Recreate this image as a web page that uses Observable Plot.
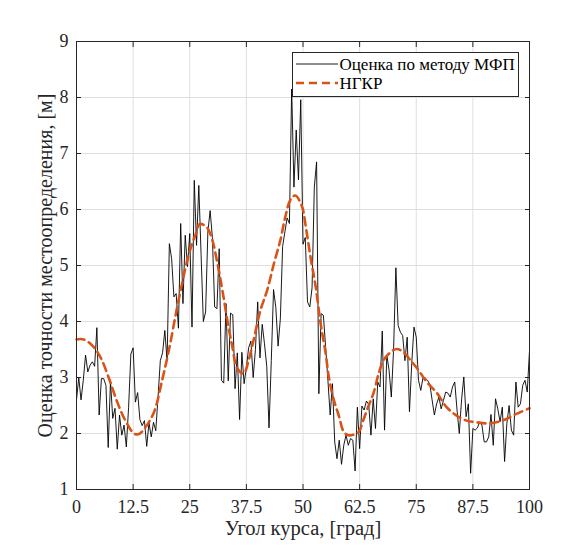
<!DOCTYPE html>
<html><head><meta charset="utf-8">
<script src="https://cdn.jsdelivr.net/npm/d3@7"></script>
<script src="https://cdn.jsdelivr.net/npm/@observablehq/plot@0.6"></script>
<style>
body{margin:0;background:#fff;}
#wrap{position:relative;width:585px;height:550px;}
#wrap text{font-family:"Liberation Serif","Times New Roman","DejaVu Serif",serif !important;}
</style></head><body><div id="wrap"></div>
<script>
// Оценка по методу МФП: angle step 0.5 deg, 0..100
const angleStep = 0.5;
const mfpValues = [
2.6, 3.0, 2.6, 2.95, 3.4, 3.1, 3.22, 3.28, 3.2, 3.89,
2.33, 2.98, 2.98, 2.86, 1.75, 2.94, 2.27, 2.45, 1.72, 2.33,
1.97, 2.15, 1.76, 2.47, 3.42, 3.53, 2.56, 2.73, 2.25, 2.14,
2.23, 1.77, 2.19, 1.94, 2.2, 2.05, 2.65, 3.3, 3.44, 3.84,
3.29, 5.39, 5.12, 4.44, 4.5, 3.88, 5.75, 4.32, 5.54, 4.98,
5.57, 3.9, 6.52, 5.36, 6.43, 5.2, 4.0, 4.17, 5.6, 5.98,
5.5, 4.26, 4.23, 5.3, 2.95, 2.9, 4.32, 2.94, 4.15, 4.12,
2.8, 3.44, 2.25, 3.45, 2.89, 3.18, 3.53, 3.65, 3.0, 3.5,
4.35, 3.35, 3.95, 3.6, 3.2, 2.1, 3.3, 4.57, 4.25, 3.56,
4.05, 5.34, 5.6, 5.85, 5.75, 8.15, 6.4, 7.42, 6.53, 7.96,
5.38, 5.5, 4.35, 4.26, 4.6, 6.4, 6.85, 2.71, 4.14, 4.11,
3.54, 2.95, 2.33, 2.89, 1.85, 1.55, 1.88, 1.45, 1.79, 1.97,
1.79, 1.91, 1.88, 1.33, 2.47, 1.73, 2.49, 2.42, 2.58, 2.52,
1.97, 2.62, 2.09, 2.92, 2.83, 3.83, 2.06, 3.4, 3.13, 2.65,
3.51, 4.96, 3.93, 3.81, 3.75, 3.3, 3.72, 2.39, 3.25, 3.9,
3.72, 2.95, 2.77, 3.0, 2.99, 2.95, 2.88, 2.6, 2.33, 2.53,
2.65, 2.44, 2.59, 2.74, 2.72, 2.65, 2.83, 2.92, 2.42, 2.0,
2.6, 3.01, 2.3, 2.53, 1.29, 2.09, 2.06, 2.1, 2.21, 2.15,
1.85, 1.85, 1.94, 2.34, 1.79, 2.62, 2.44, 2.21, 2.47, 1.5,
2.18, 2.5, 2.06, 1.97, 2.92, 2.47, 2.53, 2.86, 2.95, 2.74,
3.48
];
// НГКР
const ngkrAngles = [0, 1.6, 3.5, 5.3, 7.1, 9.0, 10.8, 12.7, 13.8, 15.2, 17.1, 18.9, 20.4, 21.85, 23.3, 24.8, 26.3, 27.2, 28.8, 30, 31.1, 32.2, 33.3, 34.4, 35.5, 36.9, 38.0, 39.1, 40.6, 42.1, 43.6, 45.0, 46.1, 47.2, 48.3, 49.8, 50.6, 51.7, 52.8, 53.9, 55, 55.7, 56.8, 57.9, 59, 60, 61.2, 62.3, 63.4, 64.5, 65.6, 66.7, 67.8, 69.3, 70.7, 72.2, 73.7, 75.5, 77.3, 79.5, 81.7, 83.9, 86.1, 88.3, 90.5, 92.7, 94.9, 97.1, 100];
const ngkrValues = [3.68, 3.68, 3.57, 3.36, 3.0, 2.56, 2.23, 2.0, 1.99, 2.11, 2.38, 2.95, 3.49, 4.1, 4.68, 5.2, 5.56, 5.74, 5.68, 5.45, 5.04, 4.56, 4.02, 3.55, 3.16, 3.07, 3.31, 3.67, 4.2, 4.56, 5.04, 5.45, 5.87, 6.17, 6.25, 6.05, 5.7, 5.13, 4.62, 3.96, 3.43, 3.01, 2.6, 2.32, 2.03, 1.97, 1.98, 2.03, 2.26, 2.5, 2.73, 3.07, 3.31, 3.45, 3.51, 3.45, 3.31, 3.13, 2.92, 2.73, 2.47, 2.32, 2.23, 2.2, 2.18, 2.2, 2.26, 2.35, 2.45];

const xTicks = [0, 12.5, 25, 37.5, 50, 62.5, 75, 87.5, 100];
const yTicks = [1, 2, 3, 4, 5, 6, 7, 8, 9];
const xLabel = "Угол курса, [град]";
const yLabel = "Оценка точности местоопределения, [м]";
const legendLabels = ["Оценка по методу МФП", "НГКР"];

const mfp = mfpValues.map((v, i) => ({x: i * angleStep, y: v}));
const ngkr = ngkrAngles.map((a, i) => ({x: a, y: ngkrValues[i]}));

const font = "Liberation Serif, Times New Roman, serif";
const ink = "#262626";
const orange = "#D95319";

const chart = Plot.plot({
  width: 585, height: 550,
  marginLeft: 76, marginRight: 56, marginTop: 41, marginBottom: 61,
  style: {fontFamily: font, fontSize: "18px", color: ink, background: "#fff", overflow: "visible"},
  x: {domain: [0, 100]},
  y: {domain: [1, 9]},
  marks: [
    Plot.gridX(xTicks, {stroke: "#dfdfdf", strokeOpacity: 1}),
    Plot.gridY(yTicks, {stroke: "#dfdfdf", strokeOpacity: 1}),
    Plot.line(mfp, {x: "x", y: "y", stroke: "#000", strokeWidth: 0.9}),
    Plot.line(ngkr, {x: "x", y: "y", curve: "catmull-rom", stroke: orange, strokeWidth: 2.6, strokeDasharray: "8,5"}),
    Plot.frame({stroke: ink, strokeWidth: 1}),
    Plot.axisX(xTicks, {anchor: "bottom", tickSize: -5, tickFormat: () => "", label: null, stroke: ink}),
    Plot.axisX(xTicks, {anchor: "top", tickSize: -5, tickFormat: () => "", label: null, stroke: ink}),
    Plot.axisY(yTicks, {anchor: "left", tickSize: -5, tickFormat: () => "", label: null, stroke: ink}),
    Plot.axisY(yTicks, {anchor: "right", tickSize: -5, tickFormat: () => "", label: null, stroke: ink}),
    Plot.text(xTicks, {x: d => d, frameAnchor: "bottom", lineAnchor: "top", textAnchor: "middle", dy: 11, text: d => String(d), fontSize: 18, fontFamily: font, fill: ink}),
    Plot.text(yTicks, {y: d => d, frameAnchor: "left", lineAnchor: "middle", textAnchor: "end", dx: -8, text: d => String(d), fontSize: 18, fontFamily: font, fill: ink}),
    Plot.text([xLabel], {frameAnchor: "bottom", lineAnchor: "middle", textAnchor: "middle", dy: 39, fontSize: 20.5, fontFamily: font, fill: ink}),
    Plot.text([yLabel], {frameAnchor: "left", lineAnchor: "middle", textAnchor: "middle", dx: -31, rotate: -90, fontSize: 20, fontFamily: font, fill: ink})
  ]
});
const wrap = document.getElementById("wrap");
wrap.appendChild(chart);

// legend overlay
const ns = "http://www.w3.org/2000/svg";
const lg = document.createElementNS(ns, "svg");
lg.setAttribute("width", 227);
lg.setAttribute("height", 45);
lg.style.position = "absolute";
lg.style.left = "292px";
lg.style.top = "52px";
lg.innerHTML = `
<rect x="0.5" y="0.5" width="226" height="44" fill="#fff" stroke="${ink}" stroke-width="1"/>
<line x1="4" x2="46" y1="12" y2="12" stroke="#000" stroke-width="0.9"/>
<line x1="4" x2="46" y1="31" y2="31" stroke="${orange}" stroke-width="2.6" stroke-dasharray="8,5"/>
<text x="47.5" y="17.5" font-size="17" fill="#000">${legendLabels[0]}</text>
<text x="47.5" y="37" font-size="17" fill="#000">${legendLabels[1]}</text>`;
wrap.appendChild(lg);
</script>
</body></html>
